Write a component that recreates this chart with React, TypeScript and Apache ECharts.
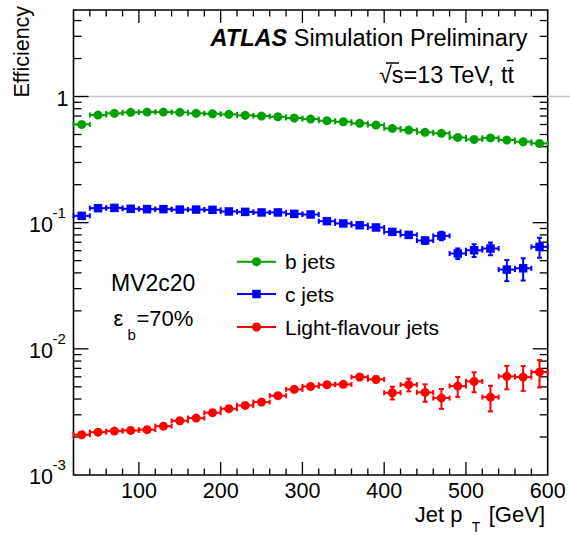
import React, { useEffect, useRef } from "react";
import * as echarts from "echarts";

// ---- data ----
const binCenters = [30, 50, 70, 90, 110, 130, 150, 170, 190, 210, 230, 250, 270, 290, 310, 330, 350, 370, 390, 410, 430, 450, 470, 490, 510, 530, 550, 570, 590];
const binHalfWidth = 10;

const bJetEff = [0.601, 0.713, 0.736, 0.749, 0.753, 0.753, 0.749, 0.736, 0.73, 0.722, 0.709, 0.7, 0.691, 0.675, 0.663, 0.643, 0.631, 0.613, 0.594, 0.559, 0.542, 0.52, 0.511, 0.474, 0.457, 0.47, 0.452, 0.438, 0.425];
const bJetErr = [0.003, 0.002, 0.002, 0.002, 0.002, 0.002, 0.002, 0.002, 0.002, 0.002, 0.002, 0.002, 0.002, 0.002, 0.002, 0.002, 0.002, 0.002, 0.002, 0.003, 0.003, 0.003, 0.003, 0.004, 0.004, 0.004, 0.005, 0.005, 0.005];

const cJetEff = [0.1132, 0.1303, 0.131, 0.1288, 0.128, 0.128, 0.127, 0.127, 0.1264, 0.1227, 0.1218, 0.1205, 0.1205, 0.1174, 0.1161, 0.1028, 0.0986, 0.0955, 0.0916, 0.0845, 0.08, 0.0722, 0.0786, 0.057, 0.0605, 0.0624, 0.0425, 0.0435, 0.0643];
const cJetErr = [0.001, 0.001, 0.001, 0.001, 0.001, 0.001, 0.001, 0.001, 0.001, 0.001, 0.0012, 0.0013, 0.0014, 0.0016, 0.0018, 0.002, 0.0022, 0.0025, 0.0028, 0.003, 0.0035, 0.004, 0.006, 0.0055, 0.007, 0.0072, 0.0081, 0.0087, 0.0116];

const lightJetEff = [0.002085, 0.002186, 0.002228, 0.002256, 0.002286, 0.00244, 0.002692, 0.002825, 0.003118, 0.003352, 0.003562, 0.003786, 0.004254, 0.004773, 0.005039, 0.0052, 0.005228, 0.005974, 0.005725, 0.004488, 0.0052, 0.004517, 0.004073, 0.005071, 0.005521, 0.004142, 0.00605, 0.005974, 0.006545];
const lightJetErr = [0.00003, 0.00003, 0.00003, 0.00004, 0.00004, 0.00005, 0.00006, 0.00007, 0.00008, 0.0001, 0.00011, 0.00013, 0.00015, 0.00018, 0.0002, 0.00022, 0.00025, 0.00033, 0.00032, 0.00052, 0.0006, 0.00071, 0.00073, 0.00091, 0.00099, 0.00095, 0.00127, 0.00133, 0.0016];

const seriesNames = ["b jets", "c jets", "Light-flavour jets"];
const xTickLabels = [100, 200, 300, 400, 500, 600];
const yTickLabels = [0.001, 0.01, 0.1, 1];
const yTickExponents = ["-3", "-2", "-1", ""];

// ---- axis settings ----
const X_MIN = 20;
const X_MAX = 600;
const X_STEP = 20;
const Y_MIN = 0.001;
const Y_MAX = 4.85;

const FONT = "'Liberation Sans', Arial, Helvetica, sans-serif";
const GREEN = "#00a000";
const BLUE = "#0000ff";
const RED = "#ff0000";

function errorSeries(name: string, color: string, eff: number[], err: number[]) {
  return {
    type: "custom",
    name,
    silent: true,
    z: 2,
    encode: { x: 0, y: 1 },
    data: binCenters.map((x, i) => [x, eff[i], err[i]]),
    renderItem: (params: any, api: any) => {
      const x = api.value(0);
      const y = api.value(1);
      const e = api.value(2);
      const l = api.coord([x - binHalfWidth, y]);
      const r = api.coord([x + binHalfWidth, y]);
      const t = api.coord([x, y + e]);
      const b = api.coord([x, y - e]);
      const cap = 2.5;
      const st = { stroke: color, lineWidth: 2 };
      return {
        type: "group",
        children: [
          { type: "line", shape: { x1: l[0], y1: l[1], x2: r[0], y2: r[1] }, style: st },
          { type: "line", shape: { x1: l[0], y1: l[1] - cap, x2: l[0], y2: l[1] + cap }, style: st },
          { type: "line", shape: { x1: r[0], y1: r[1] - cap, x2: r[0], y2: r[1] + cap }, style: st },
          { type: "line", shape: { x1: t[0], y1: t[1], x2: b[0], y2: b[1] }, style: st },
          { type: "line", shape: { x1: t[0] - cap, y1: t[1], x2: t[0] + cap, y2: t[1] }, style: st },
          { type: "line", shape: { x1: b[0] - cap, y1: b[1], x2: b[0] + cap, y2: b[1] }, style: st },
        ],
      };
    },
  };
}

function markerSeries(name: string, color: string, eff: number[], symbol: string, size: number) {
  return {
    type: "scatter",
    name,
    silent: true,
    z: 3,
    symbol,
    symbolSize: size,
    itemStyle: { color, opacity: 1 },
    data: binCenters.map((x, i) => [x, eff[i]]),
  };
}

function legendRow(y: number, color: string, label: string, square: boolean) {
  const marker = square
    ? { type: "rect", shape: { x: 256.5 - 4.25, y: y - 4.25, width: 8.5, height: 8.5 }, style: { fill: color } }
    : { type: "circle", shape: { cx: 256.5, cy: y, r: 4.5 }, style: { fill: color } };
  return [
    { type: "line", shape: { x1: 237, y1: y, x2: 276, y2: y }, style: { stroke: color, lineWidth: 2 } },
    marker,
    {
      type: "text",
      x: 285,
      y,
      style: { text: label, fontSize: 21, fontFamily: FONT, fill: "#000", align: "left", verticalAlign: "middle" },
    },
  ];
}

export default function App() {
  const ref = useRef<HTMLDivElement>(null);

  useEffect(() => {
    if (!ref.current) return;
    const chart = echarts.init(ref.current, undefined, { renderer: "svg" });

    const xTicks: number[][] = [];
    for (let v = X_MIN + X_STEP; v < X_MAX; v += X_STEP) {
      xTicks.push([v, Y_MIN, xTickLabels.includes(v) ? 1 : 0]);
    }
    const yTicks: number[][] = [];
    for (let e = -3; e <= 0; e++) {
      for (let k = 1; k <= 9; k++) {
        const v = k * Math.pow(10, e);
        if (v > Y_MIN * 1.001 && v < Y_MAX) yTicks.push([X_MIN, v, k === 1 ? 1 : 0]);
      }
    }

    const option: any = {
      animation: false,
      backgroundColor: "#fff",
      textStyle: { fontFamily: FONT },
      grid: {
        left: 73.5,
        right: 22.3,
        top: 10,
        bottom: 60,
        show: true,
        borderColor: "#000",
        borderWidth: 1.6,
        backgroundColor: "rgba(0,0,0,0)",
        containLabel: false,
        outerBoundsMode: "none",
      },
      xAxis: {
        type: "value",
        min: X_MIN,
        max: X_MAX,
        interval: X_STEP,
        axisLine: { show: false },
        axisTick: { show: false },
        splitLine: { show: false },
        axisLabel: {
          show: true,
          margin: 5,
          fontSize: 21.5,
          fontFamily: FONT,
          color: "#000",
          formatter: (v: number) => (xTickLabels.includes(v) ? String(v) : ""),
        },
      },
      yAxis: {
        type: "log",
        logBase: 10,
        min: Y_MIN,
        max: Y_MAX,
        axisLine: { show: false },
        axisTick: { show: false },
        splitLine: { show: false },
        axisLabel: { show: false },
      },
      series: [
        {
          type: "custom",
          silent: true,
          clip: false,
          z: 1,
          encode: { x: 0, y: 1 },
          data: [[X_MIN, 1]],
          renderItem: (params: any, api: any) => {
            const p = api.coord([api.value(0), api.value(1)]);
            return {
              type: "line",
              shape: { x1: p[0], y1: p[1], x2: api.getWidth(), y2: p[1] },
              style: { stroke: "#c4c4c4", lineWidth: 1.5 },
            };
          },
        },
        {
          type: "custom",
          silent: true,
          z: 1,
          encode: { x: 0, y: 1 },
          data: xTicks,
          renderItem: (params: any, api: any) => {
            const v = api.value(0);
            const len = api.value(2) === 1 ? 13 : 6.5;
            const b = api.coord([v, Y_MIN]);
            const t = api.coord([v, Y_MAX]);
            const st = { stroke: "#000", lineWidth: 1.3 };
            return {
              type: "group",
              children: [
                { type: "line", shape: { x1: b[0], y1: b[1], x2: b[0], y2: b[1] - len }, style: st },
                { type: "line", shape: { x1: t[0], y1: t[1], x2: t[0], y2: t[1] + len }, style: st },
              ],
            };
          },
        },
        {
          type: "custom",
          silent: true,
          z: 1,
          encode: { x: 0, y: 1 },
          data: yTicks,
          renderItem: (params: any, api: any) => {
            const v = api.value(1);
            const len = api.value(2) === 1 ? 15 : 8;
            const l = api.coord([X_MIN, v]);
            const r = api.coord([X_MAX, v]);
            const st = { stroke: "#000", lineWidth: 1.3 };
            return {
              type: "group",
              children: [
                { type: "line", shape: { x1: l[0], y1: l[1], x2: l[0] + len, y2: l[1] }, style: st },
                { type: "line", shape: { x1: r[0], y1: r[1], x2: r[0] - len, y2: r[1] }, style: st },
              ],
            };
          },
        },
        {
          type: "custom",
          silent: true,
          clip: false,
          z: 1,
          encode: { x: 0, y: 1 },
          data: yTickLabels.map((v) => [X_MIN, v]),
          renderItem: (params: any, api: any) => {
            const i = params.dataIndex;
            const p = api.coord([api.value(0), api.value(1)]);
            const exp = yTickExponents[i];
            const base = { fontFamily: FONT, fill: "#000", verticalAlign: "middle" };
            if (!exp) {
              return {
                type: "text",
                x: p[0] - 5,
                y: p[1] + 2.5,
                style: { ...base, text: "1", fontSize: 21.5, align: "right" },
              };
            }
            return {
              type: "group",
              children: [
                { type: "text", x: p[0] - 20.5, y: p[1] + 2, style: { ...base, text: "10", fontSize: 21.5, align: "right" } },
                { type: "text", x: p[0] - 21, y: p[1] - 10.5, style: { ...base, text: exp, fontSize: 15, align: "left" } },
              ],
            };
          },
        },
        errorSeries(seriesNames[0], GREEN, bJetEff, bJetErr),
        errorSeries(seriesNames[1], BLUE, cJetEff, cJetErr),
        errorSeries(seriesNames[2], RED, lightJetEff, lightJetErr),
        markerSeries(seriesNames[0], GREEN, bJetEff, "circle", 9),
        markerSeries(seriesNames[1], BLUE, cJetEff, "rect", 8.5),
        markerSeries(seriesNames[2], RED, lightJetEff, "circle", 9),
      ],
      graphic: [
        {
          type: "text",
          x: 527.5,
          y: 38,
          style: {
            text: "{a|ATLAS} {b|Simulation Preliminary}",
            align: "right",
            verticalAlign: "middle",
            fill: "#000",
            fontFamily: FONT,
            fontSize: 23.5,
            rich: {
              a: { fontWeight: "bold", fontStyle: "italic", fontSize: 23.5, fontFamily: FONT, fill: "#000" },
              b: { fontSize: 23.5, fontFamily: FONT, fill: "#000" },
            },
          },
        },
        {
          type: "text",
          x: 514,
          y: 74.5,
          style: { text: "√s=13 TeV, tt", align: "right", verticalAlign: "middle", fill: "#000", fontFamily: FONT, fontSize: 23.5 },
        },
        { type: "line", shape: { x1: 386, y1: 63, x2: 399, y2: 63 }, style: { stroke: "#000", lineWidth: 1.5 } },
        { type: "line", shape: { x1: 507, y1: 60.5, x2: 513.5, y2: 60.5 }, style: { stroke: "#000", lineWidth: 1.5 } },
        {
          type: "text",
          x: 21.5,
          y: 51.7,
          rotation: Math.PI / 2,
          style: { text: "Efficiency", align: "center", verticalAlign: "middle", fill: "#000", fontFamily: FONT, fontSize: 21.5 },
        },
        {
          type: "text",
          x: 462.5,
          y: 514.5,
          style: { text: "Jet p", align: "right", verticalAlign: "middle", fill: "#000", fontFamily: FONT, fontSize: 22 },
        },
        {
          type: "text",
          x: 476,
          y: 527,
          style: { text: "T", align: "center", verticalAlign: "middle", fill: "#000", fontFamily: FONT, fontSize: 14 },
        },
        {
          type: "text",
          x: 545,
          y: 514.5,
          style: { text: "[GeV]", align: "right", verticalAlign: "middle", fill: "#000", fontFamily: FONT, fontSize: 22 },
        },
        {
          type: "text",
          x: 111,
          y: 282.8,
          style: { text: "MV2c20", align: "left", verticalAlign: "middle", fill: "#000", fontFamily: FONT, fontSize: 23 },
        },
        {
          type: "text",
          x: 113.5,
          y: 318,
          style: { text: "ε", align: "left", verticalAlign: "middle", fill: "#000", fontFamily: FONT, fontSize: 22 },
        },
        {
          type: "text",
          x: 127.5,
          y: 334,
          style: { text: "b", align: "left", verticalAlign: "middle", fill: "#000", fontFamily: FONT, fontSize: 15 },
        },
        {
          type: "text",
          x: 136.5,
          y: 318.3,
          style: { text: "=70%", align: "left", verticalAlign: "middle", fill: "#000", fontFamily: FONT, fontSize: 22 },
        },
        ...legendRow(261.7, GREEN, seriesNames[0], false),
        ...legendRow(294, BLUE, seriesNames[1], true),
        ...legendRow(327, RED, seriesNames[2], false),
      ],
    };

    chart.setOption(option);
    return () => chart.dispose();
  }, []);

  return <div ref={ref} style={{ position: "absolute", left: 0, top: 0, width: 570, height: 535 }} />;
}
